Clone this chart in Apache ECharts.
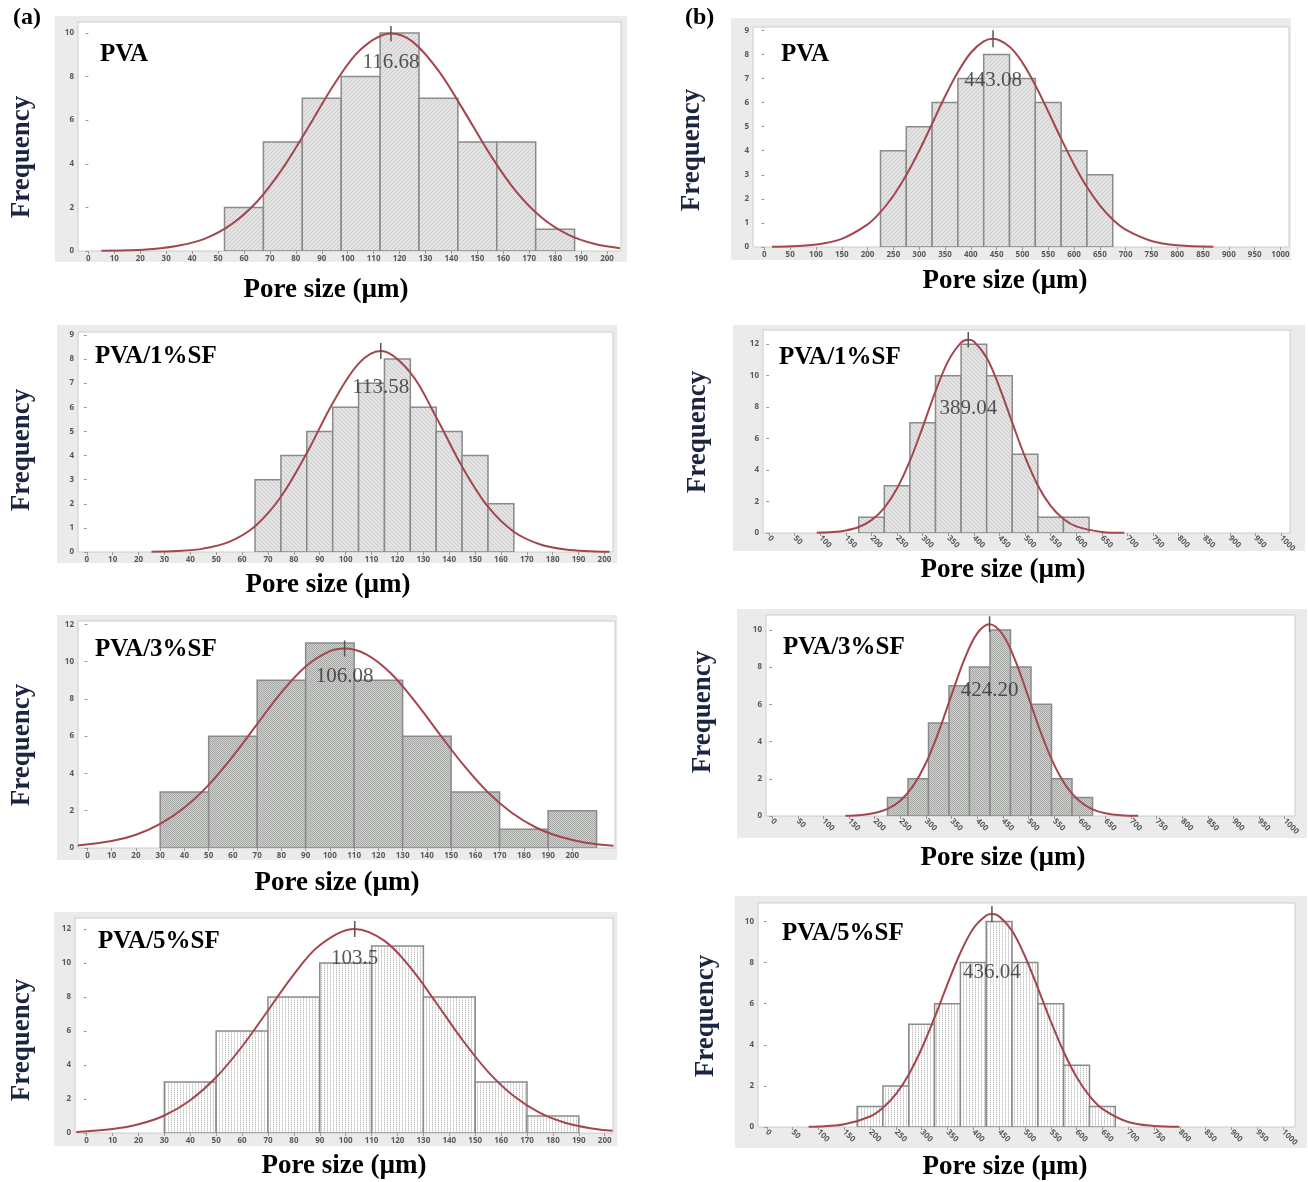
<!DOCTYPE html>
<html><head><meta charset="utf-8">
<script src="https://cdn.jsdelivr.net/npm/echarts@6/dist/echarts.min.js"></script>
<style>html,body{margin:0;padding:0;background:#fff}#c{width:1308px;height:1182px}</style>
</head><body><div id="c"></div>
<script>
// ---------------- DATA ----------------
const panelNames = ['PVA','PVA/1%SF','PVA/3%SF','PVA/5%SF','PVA','PVA/1%SF','PVA/3%SF','PVA/5%SF'];
const columnLetters = ['(a)','(b)'];
const yTitle = 'Frequency';
const xTitle = 'Pore size (\u00b5m)';
const meanValues = [116.68,113.58,106.08,103.5,443.08,389.04,424.20,436.04];
const meanLabels = ['116.68','113.58','106.08','103.5','443.08','389.04','424.20','436.04'];

const xTicksA = [0,10,20,30,40,50,60,70,80,90,100,110,120,130,140,150,160,170,180,190,200];
const xTicksB = [0,50,100,150,200,250,300,350,400,450,500,550,600,650,700,750,800,850,900,950,1000];
const yTicksA1 = [0,2,4,6,8,10];
const yTicksA2 = [0,1,2,3,4,5,6,7,8,9];
const yTicksA3 = [0,2,4,6,8,10,12];
const yTicksA4 = [0,2,4,6,8,10,12];
const yTicksB1 = [0,1,2,3,4,5,6,7,8,9];
const yTicksB2 = [0,2,4,6,8,10,12];
const yTicksB3 = [0,2,4,6,8,10];
const yTicksB4 = [0,2,4,6,8,10];

const a1BinWidth = 15;
const a1Centers = [60,75,90,105,120,135,150,165,180];
const a1Counts  = [2,5,7,8,10,7,5,5,1];
const a2BinWidth = 10;
const a2Centers = [70,80,90,100,110,120,130,140,150,160];
const a2Counts  = [3,4,5,6,7,8,6,5,4,2];
const a3BinWidth = 20;
const a3Centers = [40,60,80,100,120,140,160,180,200];
const a3Counts  = [3,6,9,11,9,6,3,1,2];
const a4BinWidth = 20;
const a4Centers = [40,60,80,100,120,140,160,180];
const a4Counts  = [3,6,8,10,11,8,3,1];
const b1BinWidth = 50;
const b1Centers = [250,300,350,400,450,500,550,600,650];
const b1Counts  = [4,5,6,7,8,7,6,4,3];
const b2BinWidth = 50;
const b2Centers = [200,250,300,350,400,450,500,550,600];
const b2Counts  = [1,3,7,10,12,10,5,1,1];
const b3BinWidth = 40;
const b3Centers = [245,285,325,365,405,445,485,525,565,605];
const b3Counts  = [1,2,5,7,8,10,8,6,2,1];
const b4BinWidth = 50;
const b4Centers = [200,250,300,350,400,450,500,550,600,650];
const b4Counts  = [1,2,5,6,8,10,8,6,3,1];

// fitted curves
const a1CurveX = [5,15,25,35,45,55,65,75,85,95,105,116.68,125,135,145,155,165,175,185,195,205];
const a1CurveY = [0.01,0.03,0.09,0.25,0.57,1.21,2.26,3.80,5.71,7.68,9.24,9.97,9.60,8.27,6.39,4.41,2.72,1.51,0.75,0.33,0.13];
const a2CurveX = [25,35,45,55,65,75,85,95,105,113.58,125,135,145,155,165,175,185,195,202];
const a2CurveY = [0.01,0.04,0.14,0.42,1.07,2.29,4.10,6.17,7.81,8.33,7.44,5.59,3.54,1.88,0.84,0.32,0.10,0.03,0.01];
const a3CurveX = [-4,10,20,30,40,50,60,70,80,90,100,106.08,115,125,135,145,155,165,175,185,195,205,217];
const a3CurveY = [0.13,0.37,0.71,1.29,2.17,3.39,4.93,6.65,8.35,9.74,10.56,10.7,10.39,9.39,7.88,6.15,4.47,3.01,1.89,1.10,0.60,0.30,0.12];
const a4CurveX = [-4,10,20,30,40,50,60,70,80,90,103.5,115,125,135,145,155,165,175,185,195,203];
const a4CurveY = [0.06,0.23,0.51,1.03,1.93,3.28,5.09,7.21,9.34,11.05,12.0,11.30,9.73,7.65,5.49,3.60,2.16,1.18,0.59,0.27,0.13];
const b1CurveX = [15,50,100,150,200,225,250,275,300,325,350,375,400,425,443.08,475,500,525,550,575,600,625,650,675,700,750,800,870];
const b1CurveY = [0.01,0.03,0.10,0.34,0.94,1.45,2.13,2.99,4.00,5.12,6.25,7.27,8.07,8.54,8.65,8.32,7.66,6.72,5.63,4.50,3.43,2.49,1.73,1.14,0.72,0.25,0.07,0.01];
const b2CurveX = [93,125,150,175,200,225,250,275,300,325,350,375,389.04,400,425,450,475,500,525,550,575,600,650,694];
const b2CurveY = [0.02,0.06,0.16,0.38,0.82,1.60,2.84,4.58,6.73,9.00,10.94,12.10,12.28,12.17,11.13,9.26,7.01,4.83,3.02,1.72,0.89,0.42,0.07,0.01];
const b3CurveX = [143,175,200,225,250,275,300,325,350,375,400,424.2,450,475,500,525,550,575,600,625,650,680,714];
const b3CurveY = [0.01,0.06,0.16,0.38,0.82,1.62,2.85,4.54,6.51,8.42,9.81,10.3,9.74,8.31,6.38,4.42,2.76,1.55,0.79,0.36,0.15,0.04,0.01];
const b4CurveX = [81,100,150,200,225,250,275,300,325,350,375,400,425,436.04,450,475,500,525,550,575,600,625,650,700,750,799];
const b4CurveY = [0.01,0.02,0.13,0.51,0.94,1.60,2.56,3.82,5.33,6.95,8.48,9.66,10.29,10.36,10.25,9.55,8.31,6.76,5.14,3.66,2.43,1.51,0.88,0.24,0.05,0.01];

const binWidths = [a1BinWidth,a2BinWidth,a3BinWidth,a4BinWidth,b1BinWidth,b2BinWidth,b3BinWidth,b4BinWidth];
const binCenters = [a1Centers,a2Centers,a3Centers,a4Centers,b1Centers,b2Centers,b3Centers,b4Centers];
const binCounts = [a1Counts,a2Counts,a3Counts,a4Counts,b1Counts,b2Counts,b3Counts,b4Counts];
const curvesX = [a1CurveX,a2CurveX,a3CurveX,a4CurveX,b1CurveX,b2CurveX,b3CurveX,b4CurveX];
const curvesY = [a1CurveY,a2CurveY,a3CurveY,a4CurveY,b1CurveY,b2CurveY,b3CurveY,b4CurveY];
const yTicks = [yTicksA1,yTicksA2,yTicksA3,yTicksA4,yTicksB1,yTicksB2,yTicksB3,yTicksB4];

// ---------------- LAYOUT / STYLE ----------------
const layout = [
  {outer:[55,16,627,262],  plot:[78,22,621,251],   xr:[-4,205.4],  yMax:10.5, rot:0,   pat:'hatch', freq:[22,157],  pore:[326,290],  name:[100,55],  tick:0.35, labY:8.66},
  {outer:[57,325,617,563], plot:[78,332,613,552],  xr:[-3.4,203.3],yMax:9.12, rot:0,   pat:'hatch2',freq:[22,450],  pore:[328,585],  name:[95,357],  tick:0.33, labY:6.83},
  {outer:[57,615,617,860], plot:[78,621,615,848],  xr:[-3.9,217.6],yMax:12.18,rot:0,   pat:'check', freq:[22,745],  pore:[337,883],  name:[95,650],  tick:0.43, labY:9.2},
  {outer:[54,912,617,1146],plot:[75,918,613,1133], xr:[-4.5,203.2],yMax:12.65,rot:0,   pat:'dots',  freq:[22,1040], pore:[344,1166], name:[98,942],  tick:0.47, labY:10.24},
  {outer:[731,18,1291,260],plot:[753,27,1289,247], xr:[-22,1016.5],yMax:9.14, rot:0,   pat:'hatch', freq:[692,150], pore:[1005,281], name:[781,55],  tick:0.35, labY:6.9},
  {outer:[733,325,1305,551],plot:[763,330,1290,533],xr:[-12,1017.6],yMax:12.9,rot:-45, pat:'hatch2',freq:[698,432], pore:[1003,570], name:[779,358], tick:0.5,  labY:7.93},
  {outer:[737,609,1307,838],plot:[766,615,1295,816],xr:[-12,1020], yMax:10.8, rot:-45, pat:'check', freq:[703,712], pore:[1003,858], name:[783,648], tick:0.43, labY:6.77},
  {outer:[735,896,1307,1148],plot:[758,903,1295,1127],xr:[-17,1023],yMax:10.9,rot:-45, pat:'dots',  freq:[706,1016],pore:[1005,1167],name:[782,934], tick:0.4,  labY:7.54}
];

function makePattern(kind){
  const cv = document.createElement('canvas');
  const ctx = cv.getContext('2d');
  if (kind === 'hatch' || kind === 'hatch2') {
    cv.width = 4; cv.height = 4;
    ctx.fillStyle = '#e3e3e3'; ctx.fillRect(0,0,4,4);
    ctx.strokeStyle = '#cdcdcd'; ctx.lineWidth = 1;
    ctx.beginPath();
    if (kind === 'hatch') { ctx.moveTo(-1,5); ctx.lineTo(5,-1); }
    else { ctx.moveTo(-1,-1); ctx.lineTo(5,5); }
    ctx.stroke();
  } else if (kind === 'check') {
    cv.width = 2; cv.height = 2;
    ctx.fillStyle = '#d0d2d0'; ctx.fillRect(0,0,2,2);
    ctx.fillStyle = '#a4a7a4'; ctx.fillRect(0,0,1,1); ctx.fillRect(1,1,1,1);
  } else {
    cv.width = 3; cv.height = 2;
    ctx.fillStyle = '#ffffff'; ctx.fillRect(0,0,3,2);
    ctx.fillStyle = '#c4c4c4'; ctx.fillRect(0,0,1,1);
    ctx.fillStyle = '#e4e4e4'; ctx.fillRect(0,1,1,1);
  }
  return {image: cv, repeat: 'repeat'};
}
const patterns = {hatch:makePattern('hatch'), hatch2:makePattern('hatch2'), check:makePattern('check'), dots:makePattern('dots')};

function histRender(pattern){
  return function(params, api){
    const c = api.value(0), v = api.value(1), w = api.value(2);
    const p0 = api.coord([c - w/2, v]);
    const p1 = api.coord([c + w/2, 0]);
    return {type:'rect', shape:{x:p0[0], y:p0[1], width:p1[0]-p0[0], height:p1[1]-p0[1]},
      style:{fill:pattern, stroke:'#8a8a8a', lineWidth:1.5}};
  };
}

const grids=[], xAxes=[], yAxes=[], series=[], graphics=[];
const serif = '"Liberation Serif", "Times New Roman", serif';
const plainNum = v => String(v);

layout.forEach((L,i)=>{
  const [pl,pt,pr,pb] = L.plot;
  const [ol,ot,or_,ob] = L.outer;
  graphics.push({type:'rect', z:-100, silent:true, shape:{x:ol, y:ot, width:or_-ol, height:ob-ot}, style:{fill:'#ebebeb'}});
  grids.push({left:pl, top:pt, width:pr-pl, height:pb-pt, show:true, backgroundColor:'#ffffff', borderColor:'#cccccc', borderWidth:1, containLabel:false, outerBoundsMode:'none'});
  const xt = i < 4 ? xTicksA : xTicksB;
  xAxes.push({gridIndex:i, type:'value', min:L.xr[0], max:L.xr[1],
    axisLine:{show:false}, splitLine:{show:false},
    axisTick:{show:true, customValues:xt, length:3, lineStyle:{color:'#9a9a9a'}},
    axisLabel:{customValues:xt, formatter:plainNum, fontSize:8, fontWeight:'bold', color:'#585858', fontFamily:'"Open Sans", sans-serif', margin:L.rot ? 4 : 4, rotate:L.rot, hideOverlap:false}});
  yAxes.push({gridIndex:i, type:'value', min:0, max:L.yMax,
    axisLine:{show:false}, splitLine:{show:false},
    axisTick:{show:true, customValues:yTicks[i], length:3, lineStyle:{color:'#9a9a9a'}},
    axisLabel:{customValues:yTicks[i], formatter:plainNum, fontSize:8, fontWeight:'bold', color:'#585858', fontFamily:'"Open Sans", sans-serif', margin:4}});
  series.push({type:'custom', xAxisIndex:i, yAxisIndex:i, silent:true, clip:true,
    renderItem:histRender(patterns[L.pat]),
    data:binCenters[i].map((c,k)=>[c, binCounts[i][k], binWidths[i]])});
  series.push({type:'line', xAxisIndex:i, yAxisIndex:i, silent:true, smooth:0.35, symbol:'none', z:5,
    lineStyle:{color:'#a4464e', width:2},
    data:curvesX[i].map((x,k)=>[x, curvesY[i][k]])});
  const peak = Math.max.apply(null, curvesY[i]);
  series.push({type:'line', xAxisIndex:i, yAxisIndex:i, silent:true, symbol:'none', z:6,
    lineStyle:{color:'#555555', width:1.5},
    data:[[meanValues[i], peak - L.tick],[meanValues[i], peak + L.tick]]});
  series.push({type:'scatter', xAxisIndex:i, yAxisIndex:i, silent:true, symbolSize:1, z:7,
    itemStyle:{color:'rgba(0,0,0,0)'},
    label:{show:true, position:'inside', formatter:meanLabels[i], fontFamily:serif, fontSize:21, color:'#2e2e2e'},
    data:[[meanValues[i], L.labY]]});
  graphics.push({type:'text', x:L.freq[0], y:L.freq[1], rotation:Math.PI/2, silent:true,
    style:{text:yTitle, fontFamily:serif, fontWeight:'bold', fontSize:27, fill:'#1c2540', align:'center', verticalAlign:'middle'}});
  graphics.push({type:'text', x:L.pore[0], y:L.pore[1], silent:true,
    style:{text:xTitle, fontFamily:serif, fontWeight:'bold', fontSize:27, fill:'#000000', align:'center', verticalAlign:'middle'}});
  graphics.push({type:'text', x:L.name[0], y:L.name[1], silent:true, z:10,
    style:{text:panelNames[i], fontFamily:serif, fontWeight:'bold', fontSize:25, fill:'#000000', align:'left', verticalAlign:'middle'}});
});
graphics.push({type:'text', x:13, y:18, silent:true, style:{text:columnLetters[0], fontFamily:serif, fontWeight:'bold', fontSize:24, fill:'#000', align:'left', verticalAlign:'middle'}});
graphics.push({type:'text', x:685, y:18, silent:true, style:{text:columnLetters[1], fontFamily:serif, fontWeight:'bold', fontSize:24, fill:'#000', align:'left', verticalAlign:'middle'}});

const chart = echarts.init(document.getElementById('c'), null, {renderer:'canvas', width:1308, height:1182});
chart.setOption({
  animation:false,
  backgroundColor:'#ffffff',
  grid:grids, xAxis:xAxes, yAxis:yAxes, series:series,
  graphic:{elements:graphics}
});
</script>
</body></html>
